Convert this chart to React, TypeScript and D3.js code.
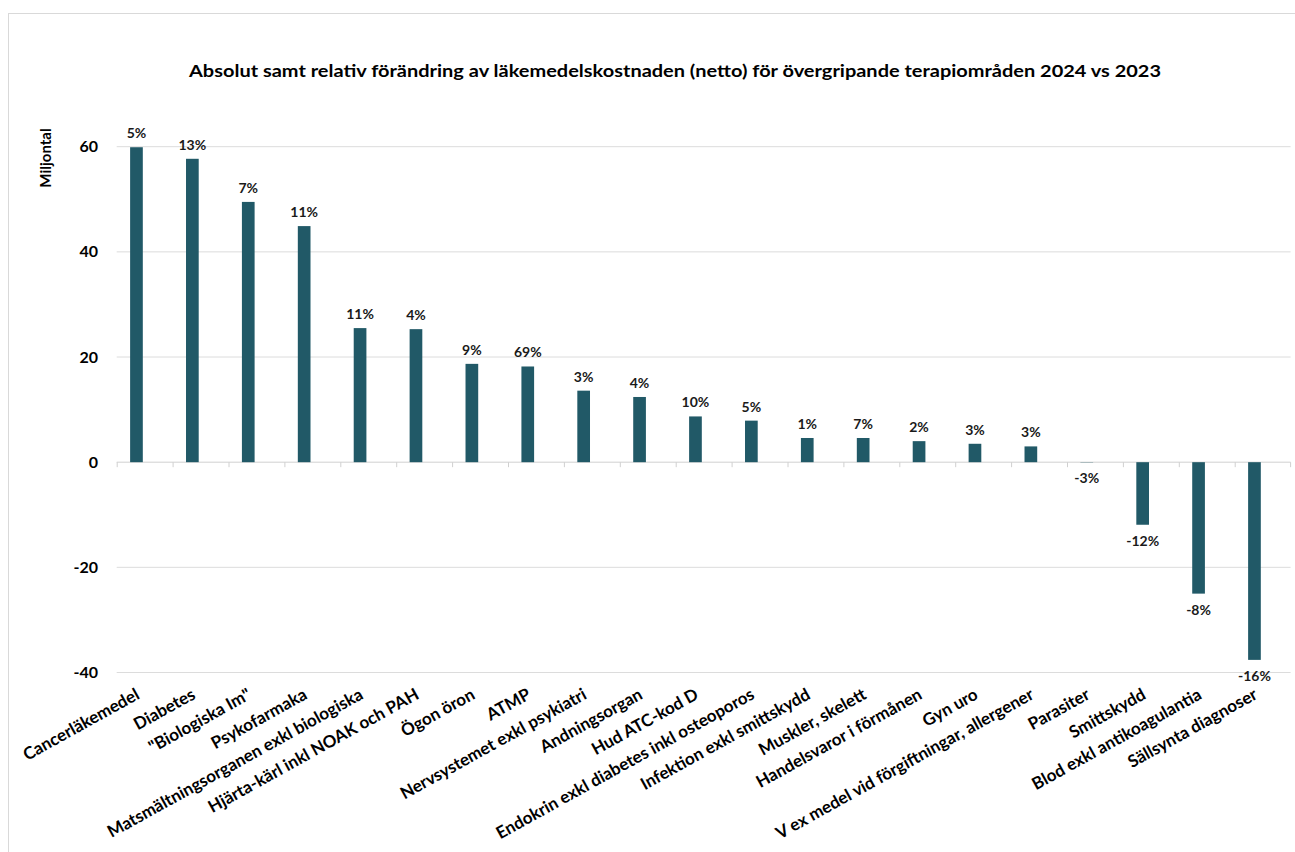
import React from "react";
import * as d3 from "d3";

const categories = [
  "Cancerläkemedel",
  "Diabetes",
  "\"Biologiska Im\"",
  "Psykofarmaka",
  "Matsmältningsorganen exkl biologiska",
  "Hjärta-kärl inkl NOAK och PAH",
  "Ögon öron",
  "ATMP",
  "Nervsystemet exkl psykiatri",
  "Andningsorgan",
  "Hud ATC-kod D",
  "Endokrin exkl diabetes inkl osteoporos",
  "Infektion exkl smittskydd",
  "Muskler, skelett",
  "Handelsvaror i förmånen",
  "Gyn uro",
  "V ex medel vid förgiftningar, allergener",
  "Parasiter",
  "Smittskydd",
  "Blod exkl antikoagulantia",
  "Sällsynta diagnoser",
];

const changeMillions = [
  59.9, 57.7, 49.5, 44.9, 25.5, 25.3, 18.7, 18.2, 13.6, 12.4, 8.7, 7.9, 4.6,
  4.6, 4.0, 3.5, 3.0, -0.05, -11.9, -25.0, -37.6,
];

const relativeLabels = [
  "5%", "13%", "7%", "11%", "11%", "4%", "9%", "69%", "3%", "4%", "10%", "5%",
  "1%", "7%", "2%", "3%", "3%", "-3%", "-12%", "-8%", "-16%",
];

const yTicks = [-40, -20, 0, 20, 40, 60];

const title =
  "Absolut samt relativ förändring av läkemedelskostnaden (netto) för övergripande terapiområden 2024 vs 2023";
const yTitle = "Miljontal";

const W = 1295;
const H = 852;
const FONT = "Lato, 'Open Sans', sans-serif";
const BAR = "#215967";

export default function App() {
  const x = d3
    .scaleBand<string>()
    .domain(categories)
    .range([116.7, 1290.6])
    .paddingInner(0)
    .paddingOuter(0);
  const y = d3.scaleLinear().domain([-40, 60]).range([672.5, 146.7]);
  const bw = x.bandwidth();
  const barOff = bw * 0.24;
  const barW = bw * 0.227;
  const y0 = y(0);

  return (
    <svg
      width={W}
      height={H}
      style={{ position: "absolute", left: 0, top: 0, display: "block", background: "#fff" }}
      fontFamily={FONT}
    >
      <rect x={8.5} y={13.5} width={W} height={H} fill="#fff" stroke="#d9d9d9" strokeWidth={1} />
      <text
        x={675}
        y={77}
        textAnchor="middle"
        fontSize={17}
        fontWeight={700}
        fill="#000"
        textLength={972}
        lengthAdjust="spacingAndGlyphs"
      >
        {title}
      </text>

      {/* gridlines */}
      {yTicks.map((t) => (
        <line
          key={"g" + t}
          x1={x.range()[0]}
          x2={x.range()[1]}
          y1={y(t)}
          y2={y(t)}
          stroke={t === 0 ? "#d0d0d0" : "#dcdcdc"}
          strokeWidth={1}
        />
      ))}
      {/* tick labels */}
      {yTicks.map((t) => (
        <text
          key={"t" + t}
          x={98}
          y={y(t)}
          dy="0.35em"
          textAnchor="end"
          fontSize={16}
          fontWeight={700}
          fill="#000"
        >
          {t}
        </text>
      ))}
      <text
        transform={`translate(51,158) rotate(-90)`}
        textAnchor="middle"
        fontSize={15}
        fontWeight={700}
        fill="#000"
      >
        {yTitle}
      </text>

      {/* category tick marks */}
      {categories.map((c, i) => (
        <line
          key={"tm" + i}
          x1={(x(c) as number) + 0.5}
          x2={(x(c) as number) + 0.5}
          y1={y0}
          y2={y0 + 5}
          stroke="#d0d0d0"
        />
      ))}
      <line x1={x.range()[1]} x2={x.range()[1]} y1={y0} y2={y0 + 5} stroke="#d0d0d0" />

      {/* bars */}
      {categories.map((c, i) => {
        const v = changeMillions[i];
        const bx = (x(c) as number) + barOff;
        const top = Math.min(y(v), y0);
        const h = Math.abs(y(v) - y0);
        return <rect key={"b" + i} x={bx} y={top} width={barW} height={h} fill={BAR} />;
      })}

      {/* value labels */}
      {categories.map((c, i) => {
        const v = changeMillions[i];
        const cx = (x(c) as number) + barOff + barW / 2;
        const ly = v >= 0 ? y(v) - 9 : y(v) + 21;
        return (
          <text
            key={"l" + i}
            x={cx}
            y={ly}
            textAnchor="middle"
            fontSize={14}
            fontWeight={700}
            fill="#1a1a1a"
          >
            {relativeLabels[i]}
          </text>
        );
      })}

      {/* category labels */}
      {categories.map((c, i) => {
        const cx = (x(c) as number) + bw / 2;
        return (
          <text
            key={"c" + i}
            transform={`translate(${cx - 4},${698}) rotate(-29)`}
            textAnchor="end"
            fontSize={17}
            fontWeight={700}
            fill="#000"
          >
            {c}
          </text>
        );
      })}
    </svg>
  );
}
